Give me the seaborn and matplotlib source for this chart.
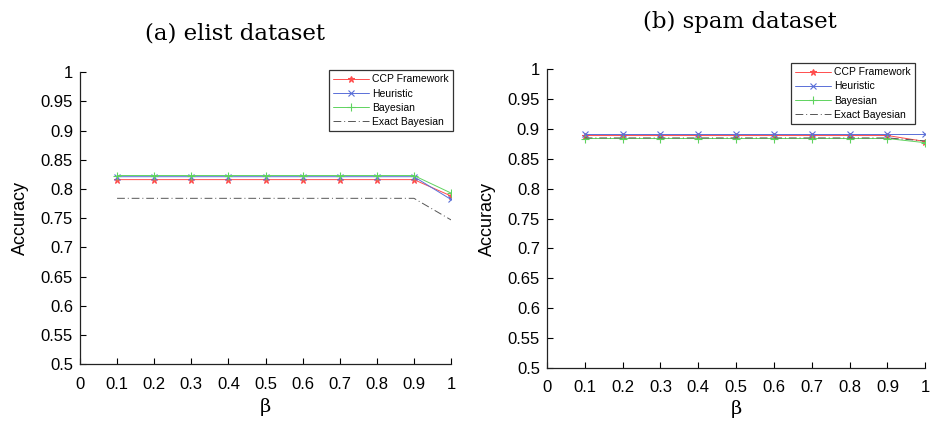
import numpy as np
import pandas as pd
import matplotlib
matplotlib.use("Agg")
import matplotlib.pyplot as plt
import seaborn as sns

# beta values shared by both panels
beta = [0.1, 0.2, 0.3, 0.4, 0.5, 0.6, 0.7, 0.8, 0.9, 1.0]

# (a) elist dataset
elist_ccp = [0.816] * 9 + [0.788]
elist_heur = [0.821] * 9 + [0.782]
elist_bayes = [0.823] * 9 + [0.793]
elist_exact = [0.784] * 9 + [0.747]

# (b) spam dataset
spam_ccp = [0.889] * 9 + [0.879]
spam_heur = [0.891] * 9 + [0.891]
spam_bayes = [0.884] * 9 + [0.877]
spam_exact = [0.885] * 9 + [0.880]

series_names = ["CCP Framework", "Heuristic", "Bayesian", "Exact Bayesian"]
xticks = [0, 0.1, 0.2, 0.3, 0.4, 0.5, 0.6, 0.7, 0.8, 0.9, 1]
yticks = [0.5, 0.55, 0.6, 0.65, 0.7, 0.75, 0.8, 0.85, 0.9, 0.95, 1]

styles = {
    "CCP Framework": dict(color="#ff4d4d", marker="*", linestyle="-", ms=5),
    "Heuristic": dict(color="#5a6fd8", marker="x", linestyle="-", ms=4),
    "Bayesian": dict(color="#5fd35f", marker="+", linestyle="-", ms=6),
    "Exact Bayesian": dict(color="#555555", marker=None, linestyle=(0, (8, 3, 1, 3)), ms=0),
}

sns.set_style("white")
plt.rcParams["font.family"] = ["Liberation Sans", "DejaVu Sans"]
plt.rcParams["text.color"] = "black"
plt.rcParams["axes.labelcolor"] = "black"
plt.rcParams["xtick.color"] = "black"
plt.rcParams["ytick.color"] = "black"
SERIF = ["DejaVu Serif", "Liberation Serif"]

fig = plt.figure(figsize=(9.3, 4.22), dpi=100)
ax_a = fig.add_axes([0.086, 0.137, 0.399, 0.692])
ax_b = fig.add_axes([0.588, 0.128, 0.407, 0.708])


def draw(ax, values, title, title_xy, legend_anchor, xlab_y, ylab_x):
    for name, vals in zip(series_names, values):
        df = pd.DataFrame({"beta": beta, "acc": vals})
        st = styles[name]
        sns.lineplot(data=df, x="beta", y="acc", ax=ax, color=st["color"],
                     linestyle=st["linestyle"], marker=st["marker"],
                     markersize=st["ms"], markeredgewidth=0.8,
                     markeredgecolor=st["color"], linewidth=0.7,
                     label=name)
    ax.set_xlim(0, 1)
    ax.set_ylim(0.5, 1)
    ax.set_xticks(xticks)
    ax.set_xticklabels([f"{t:g}" for t in xticks])
    ax.set_yticks(yticks)
    ax.set_yticklabels([f"{t:g}" for t in yticks])
    ax.tick_params(direction="in", length=4, width=0.8, labelsize=12,
                   left=True, bottom=True, colors="black")
    ax.tick_params(axis="x", pad=9)
    ax.tick_params(axis="y", pad=5)
    for s in ("top", "right"):
        ax.spines[s].set_visible(False)
    for s in ("left", "bottom"):
        ax.spines[s].set_color("#222222")
        ax.spines[s].set_linewidth(0.9)
    ax.set_xlabel("β", family=SERIF, fontsize=14, color="black")
    ax.set_ylabel("Accuracy", fontsize=13, color="black")
    ax.xaxis.set_label_coords(0.5, xlab_y)
    ax.yaxis.set_label_coords(ylab_x, 0.5)
    leg = ax.legend(loc="upper right", bbox_to_anchor=legend_anchor,
                    bbox_transform=fig.transFigure, fontsize=7.5,
                    frameon=True, fancybox=False, edgecolor="black",
                    handlelength=3.4, borderpad=0.4, labelspacing=0.4,
                    handletextpad=0.3)
    leg.get_frame().set_linewidth(0.9)
    for t in leg.get_texts():
        t.set_color("black")
    fig.text(*title_xy, title, family=SERIF, color="black",
             fontsize=16.5, ha="center", va="center")


draw(ax_a, [elist_ccp, elist_heur, elist_bayes, elist_exact],
     "(a) elist dataset", (0.253, 0.921), (0.4925, 0.846), -0.116, -0.137)
draw(ax_b, [spam_ccp, spam_heur, spam_bayes, spam_exact],
     "(b) spam dataset", (0.796, 0.947), (0.989, 0.863), -0.107, -0.135)

fig.savefig("out.png", dpi=100)
